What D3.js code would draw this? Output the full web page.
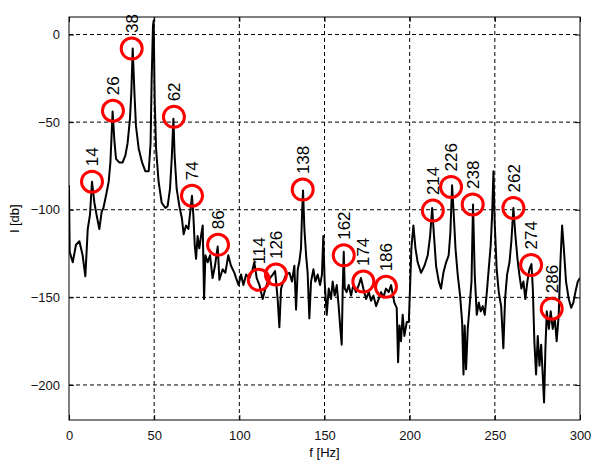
<!DOCTYPE html>
<meta charset="utf-8">
<style>
  body { margin: 0; background: #fff; }
  svg { font-family: Arial, "Liberation Sans", sans-serif; }
</style>
<script src="https://d3js.org/d3.v7.min.js"></script>
<div id="chart"></div>
<script>

// spectrum (frequency in Hz, level in db)
var freq = [0, 0.4, 2.2, 4.1, 6.1, 8, 9.6, 11, 12.3, 13.5, 14.9, 16.2, 17.8, 19.2, 20.2, 21.7, 23.3, 24.3, 24.9, 25.6,
  26.6, 27.6, 29.5, 31.5, 33.1, 34.4, 35.8, 36.6, 37.4, 38.4, 39.3, 40.9, 42.9, 44.8, 46.8, 47.9, 48.5, 49.3, 49.7, 50.3,
  51.1, 52.6, 54.4, 56.6, 57.9, 59.3, 60.3, 61.3, 62, 63.2, 64.8, 66.3, 67.3, 68.7, 70.1, 71.2, 72.2, 73, 73.8, 74.6,
  75.5, 76.5, 77.5, 78.5, 79.3, 80.1, 81.4, 82.8, 84.3, 85.7, 87.3, 88.3, 90.2, 91.8, 93.5, 95.1, 97.1, 98.1, 99.6, 101,
  102.4, 104, 105.9, 107.8, 108.8, 110.2, 111.8, 113.7, 115.3, 116.7, 118, 119.6, 121, 122.5, 123.5, 124.5, 125.8, 127.4, 129.4, 130.9,
  132.3, 133.3, 134.3, 135.2, 136.2, 136.8, 137.4, 138.2, 139.2, 140.1, 141.1, 142.1, 143.5, 144.6, 146, 147.4, 148.5, 149.3, 150.1, 151.3,
  152.5, 153.8, 154.8, 156, 157.2, 158.3, 159.3, 160.1, 160.7, 161.3, 161.9, 163, 164.2, 165.6, 166.9, 168.5, 170.1, 171.4, 172.8, 174.4,
  176, 177.3, 178.7, 180.3, 181.8, 183.2, 184.6, 186.1, 187.7, 189.1, 191, 192.4, 193.2, 194, 194.9, 195.9, 196.9, 198.3, 199.5, 200.2,
  201, 202.2, 203.4, 204.7, 206.7, 208.7, 210.6, 212, 213.2, 214.3, 215.5, 217.1, 218.4, 219.8, 221.4, 222.9, 223.9, 224.9, 225.9, 226.9,
  228.2, 229.6, 230.8, 231.6, 232.3, 233.1, 234.1, 235.1, 236.3, 237.2, 238.2, 239.4, 240.6, 241.7, 242.9, 244.1, 245.3, 246.4, 247.6, 248.4,
  249.2, 249.9, 251.1, 252.3, 253.7, 255, 256, 257.2, 258.6, 259.7, 260.9, 262.1, 263.3, 264.4, 265.6, 266.8, 267.9, 269.1, 270.3, 271.5,
  272.3, 273.2, 274.2, 275.2, 276.2, 277.2, 278.1, 278.9, 279.7, 280.5, 281.7, 282.8, 284, 285.2, 286.3, 287.5, 288.5, 289.5, 290.5, 291.8,
  293.4, 294.8, 296.1, 297.3, 298.7, 300];
var level = [-86, -124, -130, -120, -118, -126, -138, -111, -103, -84, -96, -103, -111, -101, -99, -92, -84, -73, -60, -44,
  -60, -71, -73, -73, -69, -62, -48, -33, -8, -33, -52, -65, -73, -78, -78, -62, -27, 5, 8, -37,
  -65, -84, -96, -99, -98, -88, -71, -48, -69, -88, -98, -105, -114, -109, -111, -101, -92, -103, -120, -128,
  -115, -122, -115, -109, -151, -126, -130, -126, -139, -132, -121, -140, -134, -136, -126, -132, -136, -139, -143, -137,
  -143, -137, -139, -134, -130, -139, -143, -151, -145, -141, -139, -137, -135, -151, -167, -145, -141, -137, -136, -141,
  -132, -157, -134, -130, -122, -103, -89, -111, -126, -136, -162, -141, -134, -141, -137, -143, -137, -115, -141, -160,
  -145, -151, -141, -149, -143, -155, -168, -177, -145, -124, -145, -147, -143, -149, -143, -147, -143, -139, -145, -151,
  -147, -152, -149, -155, -151, -147, -150, -145, -147, -143, -153, -156, -187, -166, -175, -160, -172, -164, -164, -145,
  -122, -109, -122, -130, -136, -132, -126, -115, -99, -115, -132, -141, -145, -136, -130, -126, -113, -86, -103, -122,
  -137, -149, -164, -194, -166, -191, -168, -156, -141, -97, -137, -160, -153, -158, -155, -160, -147, -134, -120, -103,
  -78, -107, -134, -147, -155, -179, -151, -137, -130, -118, -99, -115, -128, -137, -145, -141, -151, -141, -134, -131,
  -145, -175, -194, -172, -189, -177, -194, -210, -179, -158, -168, -158, -168, -162, -175, -160, -130, -109, -122, -141,
  -151, -156, -153, -147, -141, -139];

// marked peaks: label text and where the circle sits
var peakLabels = ["14", "26", "38", "62", "74", "86", "114", "126", "138", "162", "174", "186",
  "214", "226", "238", "262", "274", "286"];
var peakFreq = [13.5, 25.8, 36.8, 61.6, 72.2, 87.5, 111.4, 121.5, 137.2, 161.3, 172.8, 186.1,
  213.6, 224.3, 237, 260.9, 271.3, 283.4];
var peakLevel = [-84, -43.5, -8, -47, -92, -120, -140, -137, -88.5, -126, -141, -144,
  -100.5, -87, -97, -99, -131.5, -156.5];

var xTicks = [0, 50, 100, 150, 200, 250, 300];
var yTicks = [0, -50, -100, -150, -200];

var margin = {top: 17, right: 11, bottom: 42, left: 69},
    width = 591 - margin.left - margin.right,
    height = 462 - margin.top - margin.bottom;

var svg = d3.select("#chart")
  .append("svg")
    .attr("width", 591)
    .attr("height", 462)
  .append("g")
    .attr("transform", "translate(" + margin.left + "," + margin.top + ")");

var x = d3.scaleLinear().domain([0, 300]).range([0, width]);
var y = d3.scaleLinear().domain([-220, 10]).range([height, 0]);

svg.append("clipPath").attr("id", "plotclip")
  .append("rect").attr("width", width).attr("height", height);

// dashed grid
svg.append("g").selectAll("line")
  .data(xTicks.filter(d => d > 0 && d < 300))
  .enter().append("line")
    .attr("x1", d => x(d)).attr("x2", d => x(d))
    .attr("y1", 0).attr("y2", height)
    .attr("stroke", "#000").attr("stroke-width", 1)
    .attr("stroke-dasharray", "4,3");
svg.append("g").selectAll("line")
  .data(yTicks)
  .enter().append("line")
    .attr("x1", 0).attr("x2", width)
    .attr("y1", d => y(d)).attr("y2", d => y(d))
    .attr("stroke", "#000").attr("stroke-width", 1)
    .attr("stroke-dasharray", "4,3");

// spectrum line
var pts = freq.map((f, i) => [f, level[i]]);
svg.append("path")
  .datum(pts)
  .attr("clip-path", "url(#plotclip)")
  .attr("fill", "none")
  .attr("stroke", "#000")
  .attr("stroke-width", 2)
  .attr("stroke-linejoin", "round")
  .attr("d", d3.line().x(d => x(d[0])).y(d => y(d[1])));

// axes, ticks pointing inward
function styleAxis(g) {
  g.select(".domain").remove();
  g.selectAll("line").attr("stroke", "#000");
  g.selectAll("text").attr("font-size", 13).attr("fill", "#111");
}
svg.append("g")
  .attr("transform", "translate(0," + height + ")")
  .call(d3.axisBottom(x).tickValues(xTicks).tickSize(-5).tickPadding(11))
  .call(styleAxis);
svg.append("g")
  .call(d3.axisTop(x).tickValues(xTicks).tickSize(-5).tickFormat(""))
  .call(styleAxis);
svg.append("g")
  .call(d3.axisLeft(y).tickValues(yTicks).tickSize(-5).tickPadding(9))
  .call(styleAxis);
svg.append("g")
  .attr("transform", "translate(" + width + ",0)")
  .call(d3.axisRight(y).tickValues(yTicks).tickSize(-5).tickFormat(""))
  .call(styleAxis);

svg.append("rect")
  .attr("width", width).attr("height", height)
  .attr("fill", "none").attr("stroke", "#000").attr("stroke-width", 1);

// red circles and rotated labels
var peaks = peakLabels.map((t, i) => ({t: t, f: peakFreq[i], v: peakLevel[i]}));
var r = 10.5;
svg.append("g").selectAll("circle")
  .data(peaks)
  .enter().append("circle")
    .attr("cx", d => x(d.f))
    .attr("cy", d => y(d.v))
    .attr("r", r)
    .attr("fill", "none")
    .attr("stroke", "#ff0000")
    .attr("stroke-width", 3);
svg.append("g").selectAll("text")
  .data(peaks)
  .enter().append("text")
    .attr("transform", d => "translate(" + x(d.f) + "," + (y(d.v) - r - 5) + ") rotate(-90)")
    .attr("dy", "0.36em")
    .attr("font-size", 17)
    .attr("fill", "#000")
    .text(d => d.t);

// axis labels
svg.append("text")
  .attr("x", width / 2)
  .attr("y", height + 37)
  .attr("text-anchor", "middle")
  .attr("font-size", 13)
  .text("f [Hz]");
svg.append("text")
  .attr("transform", "translate(-50," + (height / 2) + ") rotate(-90)")
  .attr("text-anchor", "middle")
  .attr("font-size", 13)
  .text("l [db]");

</script>
